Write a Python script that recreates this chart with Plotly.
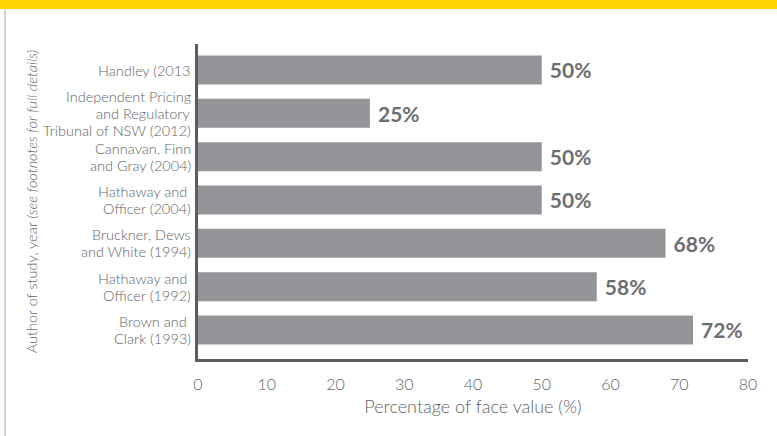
import plotly.graph_objects as go

# Studies, listed top to bottom (each entry split into its printed lines)
studies = [
    ["Handley (2013"],
    ["Independent Pricing", "and Regulatory", "Tribunal of NSW (2012)"],
    ["Cannavan, Finn", "and Gray (2004)"],
    ["Hathaway and ", "Officer (2004)"],
    ["Bruckner, Dews", "and White (1994)"],
    ["Hathaway and ", "Officer (1992)"],
    ["Brown and ", "Clark (1993)"],
]
values = [50, 25, 50, 50, 68, 58, 72]
value_labels = [f" {v}%" for v in values]
x_ticks = [0, 10, 20, 30, 40, 50, 60, 70, 80]

# bottom-to-top positions for the horizontal bars
ypos = list(range(len(studies) - 1, -1, -1))

BAR = "#939598"
AXIS = "#5b5c5f"
TEXT = "#626366"
FONT = "Lato"
LINE_GAP = 17  # px between lines of a category label

fig = go.Figure()
fig.add_trace(go.Bar(
    x=values,
    y=ypos,
    orientation="h",
    width=0.67,
    marker=dict(color=BAR, line=dict(width=0)),
    text=value_labels,
    textposition="outside",
    textfont=dict(family=FONT, size=21, color="#6d6e71", weight="bold"),
    cliponaxis=False,
    hoverinfo="skip",
))

# category labels, right-aligned against the axis with tight line spacing
annotations = []
for lines, yp in zip(studies, ypos):
    n = len(lines)
    for i, line in enumerate(lines):
        annotations.append(dict(
            x=0, y=yp, xref="x", yref="y",
            text=line, showarrow=False,
            xanchor="right", yanchor="middle",
            xshift=-5, yshift=((n - 1) / 2 - i) * LINE_GAP,
            font=dict(family=FONT, size=14.5, color=TEXT, weight=300),
        ))

fig.update_layout(
    width=777,
    height=436,
    margin=dict(l=198, r=29, t=44, b=77),
    paper_bgcolor="white",
    plot_bgcolor="white",
    showlegend=False,
    font=dict(family=FONT, color=TEXT),
    annotations=annotations,
    xaxis=dict(
        range=[0, 80],
        tickvals=x_ticks,
        ticktext=[str(t) for t in x_ticks],
        showgrid=False,
        zeroline=False,
        showline=True,
        linecolor=AXIS,
        linewidth=3,
        ticks="",
        ticklabelstandoff=9,
        tickfont=dict(family=FONT, size=16, color=TEXT, weight=300),
        title=dict(text="Percentage of face value (%)",
                   font=dict(family=FONT, size=18, color=TEXT, weight=300), standoff=9),
    ),
    yaxis=dict(
        range=[-0.67, 6.6],
        tickvals=ypos,
        showticklabels=False,
        showgrid=False,
        zeroline=False,
        showline=True,
        linecolor=AXIS,
        linewidth=3,
        ticks="",
        title=dict(text="Author of study, year <i>(see footnotes for full details)</i>",
                   font=dict(family=FONT, size=14.5, color=TEXT, weight=300), standoff=154),
    ),
    shapes=[
        # yellow header band
        dict(type="rect", xref="paper", yref="paper", x0=-1, x1=2,
             y0=1 + 35 / 315, y1=1 + 60 / 315,
             fillcolor="#FFD400", line=dict(width=0), layer="below"),
        # thin frame line on the left edge
        dict(type="line", xref="paper", yref="paper",
             x0=-193 / 550, x1=-193 / 550, y0=-77 / 315, y1=1 + 35 / 315,
             line=dict(color="#d3d3d3", width=2)),
    ],
)

fig.write_html("out.html")
